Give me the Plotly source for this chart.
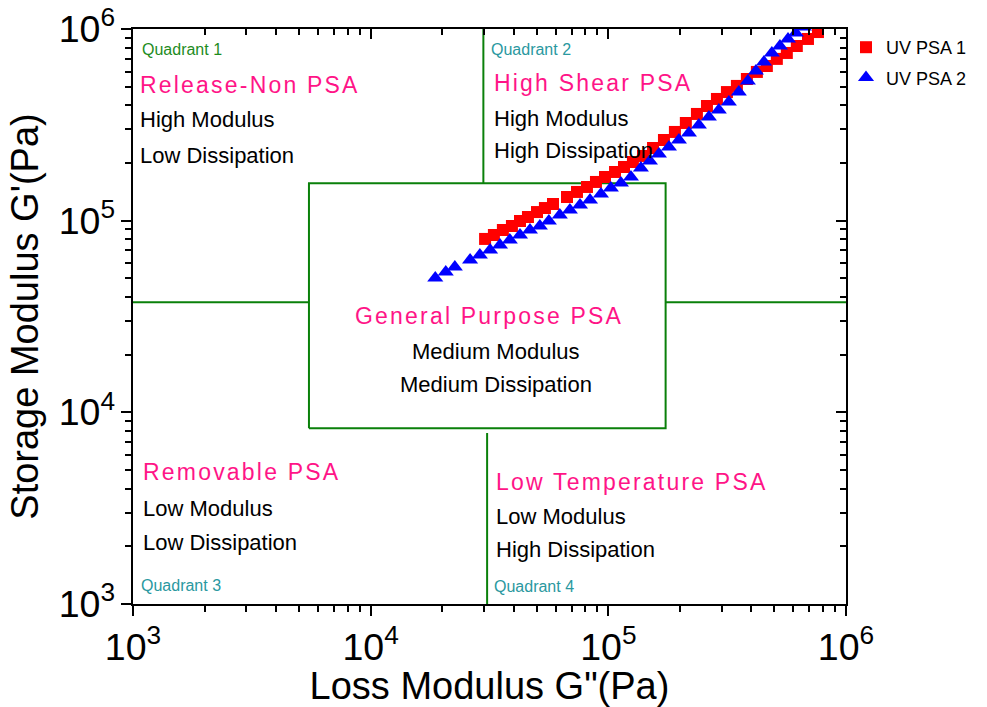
import plotly.graph_objects as go

# ---------------- data ----------------
# UV PSA 1 : loss modulus G'' (Pa) and storage modulus G' (Pa)
g2_psa1 = [30.3e3, 33.0e3, 36.0e3, 39.3e3, 42.5e3, 45.9e3, 50.1e3, 54.1e3, 58.5e3,
           67.0e3, 73.8e3, 81.3e3, 88.7e3, 96.8e3, 106.7e3, 116.4e3, 126.9e3, 139.9e3,
           154.2e3, 171.4e3, 190.6e3, 211.9e3, 235.9e3, 260.0e3, 286.4e3, 315.5e3,
           347.5e3, 382.8e3, 421.7e3, 464.5e3, 511.7e3, 563.7e3, 620.9e3, 691.8e3, 762.1e3]
g1_psa1 = [80.3e3, 84.2e3, 89.4e3, 93.8e3, 99.6e3, 104.5e3, 110.9e3, 116.4e3, 122.2e3,
           132.9e3, 141.2e3, 149.9e3, 159.2e3, 169.0e3, 179.5e3, 190.6e3, 202.3e3, 217.6e3,
           239.4e3, 263.6e3, 290.3e3, 323.4e3, 360.4e3, 396.5e3, 431.5e3, 468.8e3,
           504.7e3, 548.3e3, 597.0e3, 641.2e3, 698.2e3, 749.9e3, 815.3e3, 887.2e3, 964.0e3]

# UV PSA 2
g2_psa2 = [18.7e3, 20.7e3, 22.6e3, 26.2e3, 28.8e3, 31.8e3, 35.0e3, 38.5e3, 42.5e3, 46.8e3,
           51.5e3, 56.2e3, 62.5e3, 68.9e3, 76.0e3, 83.7e3, 93.1e3, 102.5e3, 113.0e3, 124.5e3,
           137.1e3, 149.6e3, 163.3e3, 179.9e3, 198.2e3, 218.3e3, 240.4e3, 264.9e3, 291.7e3,
           321.4e3, 354.0e3, 386.4e3, 417.8e3, 451.6e3, 487.5e3, 527.2e3, 570.2e3, 615.2e3,
           665.3e3]
g1_psa2 = [50.2e3, 54.0e3, 57.3e3, 62.4e3, 66.2e3, 70.3e3, 74.6e3, 79.3e3, 84.2e3, 89.4e3,
           93.8e3, 99.6e3, 107.2e3, 113.8e3, 120.8e3, 128.2e3, 137.7e3, 148.2e3, 157.4e3, 169.0e3,
           188.4e3, 204.8e3, 222.8e3, 242.3e3, 263.6e3, 286.7e3, 315.5e3, 347.5e3, 377.6e3,
           416.0e3, 468.8e3, 535.8e3, 603.9e3, 672.9e3, 749.9e3, 815.3e3, 887.2e3, 953.0e3,
           1023e3]

series_names = ["UV PSA 1", "UV PSA 2"]

# quadrant boundaries (Pa)
axis_min, axis_max = 1e3, 1e6
box_g2 = [5.50e3, 1.742e5]      # G'' extent of the general-purpose box
box_g1 = [8.26e3, 1.567e5]      # G'  extent of the general-purpose box
split_g2_upper = 2.98e4
split_g2_lower = 3.09e4
split_g1 = 3.75e4
lower_split_top = 7.8e3

FONT = "Liberation Sans, Arial, sans-serif"
PINK = "#FF1487"
GREEN_LBL = "#1E8C1E"
TEAL_LBL = "#2A98A0"
LINE_GREEN = "#0A800A"

fig = go.Figure()

# quadrant lines
nan = None
lx = [box_g2[0], box_g2[1], box_g2[1], box_g2[0], box_g2[0], nan,
      split_g2_upper, split_g2_upper, nan,
      split_g2_lower, split_g2_lower, nan,
      axis_min, box_g2[0], nan,
      box_g2[1], axis_max]
ly = [box_g1[0], box_g1[0], box_g1[1], box_g1[1], box_g1[0], nan,
      box_g1[1], axis_max, nan,
      axis_min, lower_split_top, nan,
      split_g1, split_g1, nan,
      split_g1, split_g1]
fig.add_trace(go.Scatter(x=lx, y=ly, mode="lines", line=dict(color=LINE_GREEN, width=2),
                         showlegend=False, hoverinfo="skip", cliponaxis=False))

fig.add_trace(go.Scatter(x=g2_psa1, y=g1_psa1, mode="markers", name=series_names[0],
                         legendgroup="a",
                         marker=dict(symbol="square", size=12, color="#FF0000",
                                     line=dict(width=0))))
fig.add_trace(go.Scatter(x=g2_psa2, y=g1_psa2, mode="markers", name=series_names[1],
                         legendgroup="b",
                         marker=dict(symbol="triangle-up", size=14, color="#0000FF",
                                     line=dict(width=0))))

# dummy traces so mirrored top / right axes (inward ticks) are drawn
fig.add_trace(go.Scatter(x=[], y=[], xaxis="x2", yaxis="y", showlegend=False))
fig.add_trace(go.Scatter(x=[], y=[], xaxis="x", yaxis="y2", showlegend=False))

# ---------------- annotations ----------------
W, H, L, T = 713, 575, 133, 29


def px(xp):
    return (xp - L) / W


def py(yp):
    return (T + H - yp) / H


def spaced(t):
    return '<span style="letter-spacing:2.2px">' + t + '</span>'


labels = [
    # text, x(px), y(px), anchor, color, size
    ("Quadrant 1", 140, 49, "left", GREEN_LBL, 16),
    (spaced("Release-Non PSA"), 138, 85, "left", PINK, 23),
    ("High Modulus", 138, 120, "left", "black", 22),
    ("Low Dissipation", 138, 155, "left", "black", 22),
    ("Quadrant 2", 489, 50, "left", TEAL_LBL, 16),
    (spaced("High Shear PSA"), 492, 83, "left", PINK, 23),
    ("High Modulus", 492, 118, "left", "black", 22),
    ("High Dissipation", 492, 151, "left", "black", 22),
    (spaced("General Purpose PSA"), 489, 316, "center", PINK, 23),
    ("Medium Modulus", 496, 351, "center", "black", 22),
    ("Medium Dissipation", 496, 384, "center", "black", 22),
    (spaced("Removable PSA"), 141, 472, "left", PINK, 23),
    ("Low Modulus", 141, 508, "left", "black", 22),
    ("Low Dissipation", 141, 542, "left", "black", 22),
    ("Quadrant 3", 139, 585, "left", TEAL_LBL, 16),
    (spaced("Low Temperature PSA"), 494, 482, "left", PINK, 23),
    ("Low Modulus", 494, 516, "left", "black", 22),
    ("High Dissipation", 494, 549, "left", "black", 22),
    ("Quadrant 4", 492, 586, "left", TEAL_LBL, 16),
]
annotations = []
for text, x, y, anc, col, size in labels:
    annotations.append(dict(text=text, x=px(x), y=py(y), xref="paper", yref="paper",
                            xanchor=anc, yanchor="middle", showarrow=False,
                            font=dict(family=FONT, size=size, color=col)))

common_axis = dict(type="log", range=[3, 6], dtick=1, showgrid=False, zeroline=False,
                   showline=True, linecolor="black", linewidth=2,
                   tickcolor="black", tickwidth=2, automargin=False)

fig.update_layout(
    width=987, height=707,
    margin=dict(l=L, r=987 - L - W, t=T, b=707 - T - H, autoexpand=False),
    paper_bgcolor="white", plot_bgcolor="white",
    font=dict(family=FONT, color="black"),
    xaxis=dict(**common_axis, ticks="outside", ticklen=10, exponentformat="power",
               showexponent="all",
               tickfont=dict(size=30, family=FONT),
               minor=dict(ticks="outside", ticklen=6, tickwidth=1.5, tickcolor="black",
                          showgrid=False),
               title=dict(text='Loss Modulus G"(Pa)', font=dict(size=38, family=FONT),
                          standoff=4)),
    yaxis=dict(**common_axis, ticks="outside", ticklen=10, exponentformat="power",
               showexponent="all",
               tickfont=dict(size=30, family=FONT),
               minor=dict(ticks="outside", ticklen=6, tickwidth=1.5, tickcolor="black",
                          showgrid=False),
               title=dict(text="Storage Modulus G'(Pa)", font=dict(size=38, family=FONT),
                          standoff=8)),
    xaxis2=dict(**common_axis, overlaying="x", side="top", anchor="y", ticks="inside",
                ticklen=10, showticklabels=False,
                minor=dict(ticks="inside", ticklen=6, tickwidth=1.5, tickcolor="black",
                           showgrid=False)),
    yaxis2=dict(**common_axis, overlaying="y", side="right", anchor="x", ticks="inside",
                ticklen=10, showticklabels=False,
                minor=dict(ticks="inside", ticklen=6, tickwidth=1.5, tickcolor="black",
                           showgrid=False)),
    legend=dict(x=1.0, xanchor="left", y=1.0, yanchor="top", tracegroupgap=4,
                font=dict(size=18, family=FONT, color="black"),
                bgcolor="rgba(0,0,0,0)", itemsizing="trace"),
    annotations=annotations,
    showlegend=True,
)

fig.write_html("out.html")
